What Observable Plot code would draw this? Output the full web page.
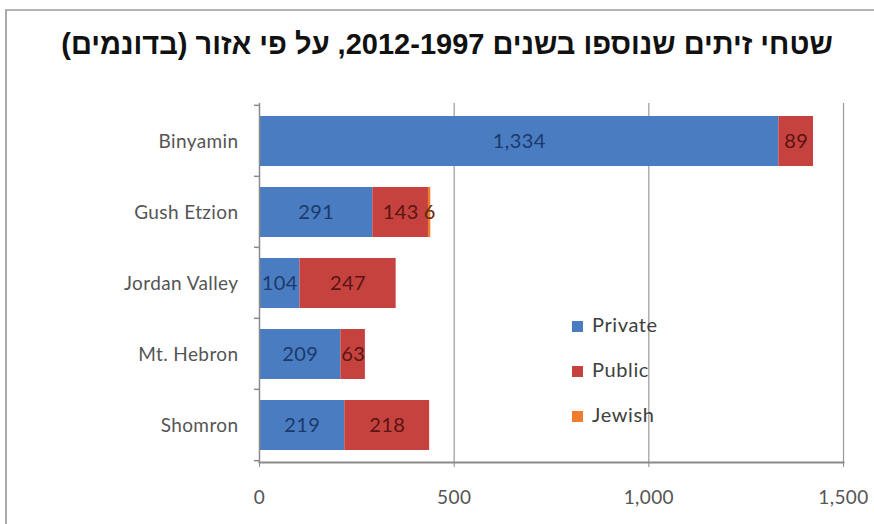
<!DOCTYPE html>
<html>
<head>
<meta charset="utf-8">
<script src="https://cdn.jsdelivr.net/npm/d3@7"></script>
<script src="https://cdn.jsdelivr.net/npm/@observablehq/plot@0.6"></script>
<style>
  html, body { margin: 0; padding: 0; background: #fff; }
  #wrap { position: relative; width: 874px; height: 524px; overflow: hidden; background: #fff; }
  #frame { position: absolute; left: 5px; top: 9px; width: 900px; height: 600px;
           border-left: 2px solid #a9a9a9; border-top: 2px solid #b5b5b5; }
  #title { position: absolute; top: 28px; left: 0; width: 874px; text-align: center;
           direction: rtl; font-family: "Liberation Sans", Arial, sans-serif; font-weight: bold;
           font-size: 29px; color: #111; padding-left: 20px; box-sizing: border-box; }
  #chart { position: absolute; left: 0; top: 0; }
  #chart svg text { letter-spacing: 0.4px; }
  #legend { position: absolute; left: 572px; top: 312px; font-family: Lato, "Open Sans", sans-serif;
            font-size: 20px; letter-spacing: 0.6px; color: #404040; }
  #legend div { height: 45px; display: flex; align-items: flex-start; }
  #legend span.sw { display: inline-block; width: 11px; height: 11px; margin-right: 9px; margin-top: 9px; }
</style>
</head>
<body>
<div id="wrap">
  <div id="frame"></div>
  <div id="title">שטחי זיתים שנוספו בשנים 1997&#x200F;-&#x200F;2012, על פי אזור (בדונמים)</div>
  <div id="chart"></div>
  <div id="legend"></div>
</div>
<script>
const regions = ["Binyamin", "Gush Etzion", "Jordan Valley", "Mt. Hebron", "Shomron"];
const seriesNames = ["Private", "Public", "Jewish"];
const privateVals = [1334, 291, 104, 209, 219];
const publicVals = [89, 143, 247, 63, 218];
const jewishVals = [0, 6, 0, 0, 0];
const xTicks = [0, 500, 1000, 1500];
const colors = ["#4a7cc1", "#c6423f", "#f07c2e"];
const labelColors = ["#1b3a6b", "#5a1412", "#5a2a0a"];

const seriesVals = [privateVals, publicVals, jewishVals];
const rows = [];
seriesNames.forEach((s, i) => {
  regions.forEach((r, j) => {
    if (seriesVals[i][j] > 0) rows.push({region: r, series: s, value: seriesVals[i][j]});
  });
});

const fmt = d3.format(",");
const font = "Lato, 'Open Sans', sans-serif";
const chart = Plot.plot({
  width: 874,
  height: 524,
  marginLeft: 259,
  marginRight: 31,
  marginTop: 103,
  marginBottom: 62,
  style: {fontFamily: font, fontSize: "19px", color: "#555", background: "transparent"},
  x: {domain: [0, 1500], ticks: xTicks, tickFormat: fmt, label: null},
  y: {domain: regions, paddingInner: 0.3, paddingOuter: 0.15, label: null},
  color: {domain: seriesNames, range: colors},
  marks: [
    Plot.gridX(xTicks.slice(1), {stroke: "#9a9a9a", strokeOpacity: 1, strokeWidth: 1.2}),
    Plot.barX(rows, Plot.stackX({x: "value", y: "region", fill: "series"})),
    Plot.text(rows, Plot.stackX({x: "value", y: "region", text: d => fmt(d.value),
      fill: d => labelColors[seriesNames.indexOf(d.series)], fontSize: 20, fontFamily: font})),
    Plot.ruleX([0], {stroke: "#8a8a8a", strokeWidth: 1.5}),
    Plot.frame({anchor: "bottom", stroke: "#8a8a8a", strokeWidth: 2}),
    Plot.axisX({ticks: xTicks, tickFormat: fmt, tickSize: 5, tickPadding: 23, stroke: "#8a8a8a",
      fill: "#555", fontSize: 19, label: null}),
    Plot.axisY({tickSize: 0, tickPadding: 21, fill: "#555", fontSize: 19, label: null})
  ]
});
document.getElementById("chart").appendChild(chart);

// y-axis boundary ticks between categories (from the band scale)
const ys = chart.scale("y");
const gap = ys.step * 0.3;
const bounds = regions.map(r => ys.apply(r) - gap / 2);
bounds.push(ys.apply(regions[regions.length - 1]) + ys.bandwidth + gap / 2);
const svg = d3.select(chart);
svg.append("g").selectAll("line").data(bounds).join("line")
  .attr("x1", 254).attr("x2", 259).attr("y1", d => d).attr("y2", d => d)
  .attr("stroke", "#8a8a8a").attr("stroke-width", 1.5);

const legend = document.getElementById("legend");
seriesNames.forEach((s, i) => {
  const d = document.createElement("div");
  d.innerHTML = `<span class="sw" style="background:${colors[i]}"></span>${s}`;
  legend.appendChild(d);
});
</script>
</body>
</html>
